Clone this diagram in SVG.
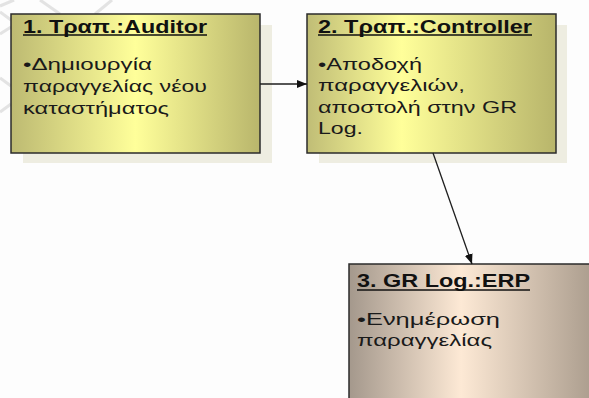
<svg xmlns="http://www.w3.org/2000/svg" width="589" height="398" viewBox="0 0 589 398">
  <style>
    .box { stroke: #2b2b2b; stroke-width: 1.5; }
    .shadow { fill: #eeede1; }
    .head { font-family: "Liberation Sans", Arial, sans-serif; font-size: 17.5px; font-weight: bold; fill: #111; }
    .body { font-family: "Liberation Sans", Arial, sans-serif; font-size: 17px; fill: #1a1a1a; }
    .uline { stroke: #111; stroke-width: 1.6; }
    .conn { stroke: #1e1e1e; stroke-width: 1.3; fill: none; }
    .wm { stroke: #dcdcdc; stroke-width: 3; fill: none; opacity: 0.8; }
  </style>
  <defs>
    <linearGradient id="gYellowA" x1="0" y1="0" x2="1" y2="0">
      <stop offset="0" stop-color="#bdba72"/>
      <stop offset="0.5" stop-color="#ffff9a"/>
      <stop offset="1" stop-color="#b9b66c"/>
    </linearGradient>
    <linearGradient id="gYellowB" x1="0" y1="0" x2="1" y2="0">
      <stop offset="0" stop-color="#c0bd76"/>
      <stop offset="0.38" stop-color="#ffff9a"/>
      <stop offset="1" stop-color="#b8b56b"/>
    </linearGradient>
    <linearGradient id="gSand" x1="0" y1="0" x2="1" y2="0">
      <stop offset="0" stop-color="#a4988c"/>
      <stop offset="0.45" stop-color="#fde9d5"/>
      <stop offset="1" stop-color="#a89a8b"/>
    </linearGradient>
    <marker id="arrow" viewBox="0 0 10 8" refX="10" refY="4" markerWidth="10" markerHeight="8" markerUnits="userSpaceOnUse" orient="auto">
      <path d="M0,0 L10,4 L0,8 z" fill="#111"/>
    </marker>
  </defs>

  <!-- page background -->
  <rect x="0" y="0" width="589" height="398" fill="#fdfdfd"/>

  <!-- faint background hatching at the top left -->
  <g id="backdrop">
    <path class="wm" d="M0,6 L14,0"/>
    <path class="wm" d="M0,12 L11,20"/>
    <path class="wm" d="M0,34 L11,27"/>
    <path class="wm" d="M0,78 L11,86"/>
    <path class="wm" d="M0,112 L11,104"/>
    <path class="wm" d="M40,0 L60,14"/>
    <path class="wm" d="M95,14 L112,0"/>
  </g>

  <!-- node 1 -->
  <g id="node-auditor">
    <rect class="shadow" x="23" y="25" width="249" height="138"/>
    <rect class="box" x="11" y="14" width="249" height="139" fill="url(#gYellowA)"/>
    <text class="head" x="23" y="32.5" textLength="184" lengthAdjust="spacingAndGlyphs">1. Τραπ.:Auditor</text>
    <line class="uline" x1="23" y1="35" x2="207" y2="35"/>
    <text class="body" x="23" y="69.5" textLength="129" lengthAdjust="spacingAndGlyphs">•Δημιουργία</text>
    <text class="body" x="23" y="91.5" textLength="184" lengthAdjust="spacingAndGlyphs">παραγγελίας νέου</text>
    <text class="body" x="23" y="113.5" textLength="146" lengthAdjust="spacingAndGlyphs">καταστήματος</text>
  </g>

  <!-- node 2 -->
  <g id="node-controller">
    <rect class="shadow" x="319" y="25" width="248" height="138"/>
    <rect class="box" x="307" y="14" width="249" height="139" fill="url(#gYellowB)"/>
    <text class="head" x="318" y="32.5" textLength="214" lengthAdjust="spacingAndGlyphs">2. Τραπ.:Controller</text>
    <line class="uline" x1="318" y1="35" x2="532" y2="35"/>
    <text class="body" x="318" y="69.5" textLength="104" lengthAdjust="spacingAndGlyphs">•Αποδοχή</text>
    <text class="body" x="318" y="91" textLength="147" lengthAdjust="spacingAndGlyphs">παραγγελιών,</text>
    <text class="body" x="318" y="113" textLength="199" lengthAdjust="spacingAndGlyphs">αποστολή στην GR</text>
    <text class="body" x="318" y="134" textLength="45" lengthAdjust="spacingAndGlyphs">Log.</text>
  </g>

  <!-- node 3 -->
  <g id="node-erp">
    <rect class="box" x="349" y="264" width="249" height="150" fill="url(#gSand)"/>
    <text class="head" x="357" y="286.5" textLength="173" lengthAdjust="spacingAndGlyphs">3. GR Log.:ERP</text>
    <line class="uline" x1="357" y1="290" x2="530" y2="290"/>
    <text class="body" x="357" y="325" textLength="143" lengthAdjust="spacingAndGlyphs">•Ενημέρωση</text>
    <text class="body" x="357" y="345.5" textLength="135" lengthAdjust="spacingAndGlyphs">παραγγελίας</text>
  </g>

  <!-- connectors -->
  <g id="connectors">
    <line class="conn" x1="260" y1="84" x2="307" y2="84" marker-end="url(#arrow)"/>
    <line class="conn" x1="433" y1="153" x2="472" y2="264" marker-end="url(#arrow)"/>
  </g>
</svg>
